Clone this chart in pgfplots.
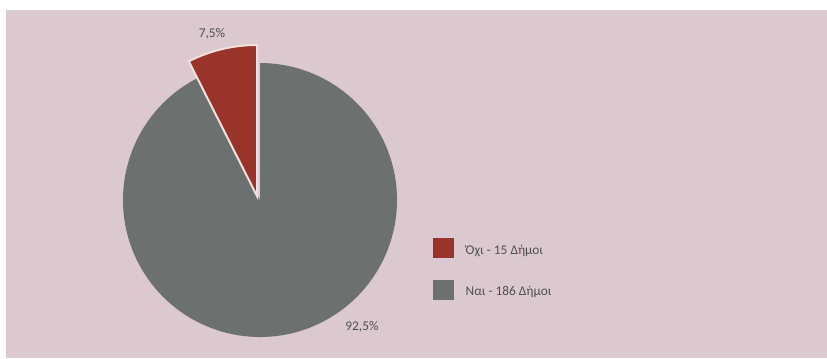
\documentclass[border=0pt]{standalone}
\usepackage{pgfplots}
\usepackage{pgfplotstable}
\pgfplotsset{compat=1.18}
\usepackage{fontspec}
\setmainfont{Carlito}
\definecolor{bgpink}{RGB}{220,201,207}
\definecolor{slred}{RGB}{152,52,42}
\definecolor{slgray}{RGB}{108,112,110}
\definecolor{txtgray}{RGB}{80,80,80}
\definecolor{edgec}{RGB}{242,224,220}
\pgfplotstableread{
label value
Oxi 15
Nai 186
}\piedata
\begin{document}
\begin{tikzpicture}
\pgfplotstablegetelem{0}{value}\of\piedata \let\vA\pgfplotsretval
\pgfplotstablegetelem{1}{value}\of\piedata \let\vB\pgfplotsretval
\pgfmathsetmacro\total{\vA+\vB}
\pgfmathsetmacro\angA{360*(\vA/\total)}
\pgfmathsetmacro\angEnd{90+\angA}
\begin{axis}[
  x=0.75pt, y=0.75pt,
  xmin=0, xmax=827, ymin=0, ymax=358,
  hide axis, clip=false,
]
\fill[white] (axis cs:0,0) rectangle (axis cs:827,358);
\fill[bgpink] (axis cs:6,0) rectangle (axis cs:827,348);
% gray slice
\fill[slgray] (axis cs:260,158) -- ++(\angEnd:102.75pt) arc[start angle=\angEnd, end angle=450, radius=102.75pt] -- cycle;
% red slice (exploded)
\filldraw[fill=slred, draw=edgec, line width=1.5pt, line join=miter] (axis cs:257,162) -- ++(90:113.25pt) arc[start angle=90, end angle=\angEnd, radius=113.25pt] -- cycle;
\node[font=\fontsize{10}{12}\selectfont, text=txtgray] at (axis cs:212,324) {7,5\%};
\node[font=\fontsize{10}{12}\selectfont, text=txtgray] at (axis cs:362,31) {92,5\%};
% legend
\fill[slred] (axis cs:433,100) rectangle (axis cs:454,120);
\fill[slgray] (axis cs:433,58) rectangle (axis cs:454,78);
\node[anchor=west, font=\fontsize{10}{12}\selectfont, text=txtgray] at (axis cs:461,107) {Όχι - 15 Δήμοι};
\node[anchor=west, font=\fontsize{10}{12}\selectfont, text=txtgray] at (axis cs:461,66) {Ναι - 186 Δήμοι};
\end{axis}
\end{tikzpicture}
\end{document}
